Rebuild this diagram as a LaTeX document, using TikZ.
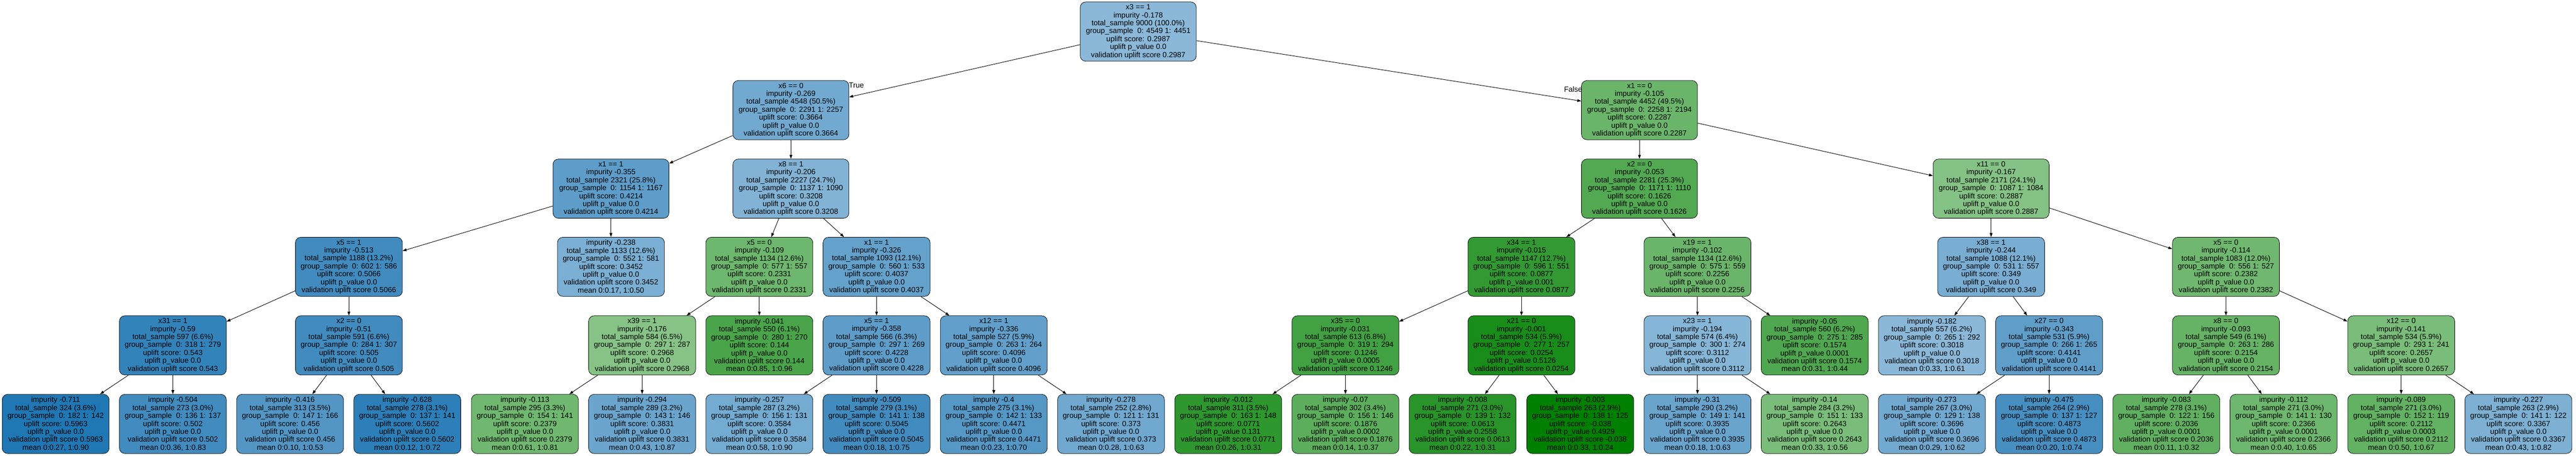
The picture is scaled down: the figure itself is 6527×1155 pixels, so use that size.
\documentclass[tikz,border=0pt]{standalone}
\usepackage{fontspec}
\setmainfont{Liberation Sans}
\usetikzlibrary{arrows.meta}
\definecolor{bl}{HTML}{1F77B4}
\definecolor{gr}{HTML}{008000}
\newcommand\intxt[7]{#1\\impurity #2\\total\_sample #3\\group\_sample\ \ 0: #4 1: #5\\uplift score: #6\\uplift p\_value #7\\validation uplift score #6}
\newcommand\lftxt[7]{impurity #1\\total\_sample #2\\group\_sample\ \ 0: #3 1: #4\\uplift score: #5\\uplift p\_value #6\\validation uplift score #5\\mean #7}
\tikzset{
  tnode/.style={draw=black, line width=1pt, rounded corners=14pt, minimum height=150pt, inner sep=0pt, align=center, font=\fontsize{18.9}{20.1}\selectfont},
  widebox/.style={tnode, minimum width=294pt},
  narrowbox/.style={tnode, minimum width=271pt},
  conn/.style={draw=black, line width=1.2pt, -{Triangle[length=10pt,width=7pt]}},
  lbl/.style={inner sep=0pt, font=\fontsize{18.9}{20.1}\selectfont}
}
\begin{document}
\begin{tikzpicture}[x=1pt,y=-1pt]
\useasboundingbox (0,0) rectangle (6527,1155);
\fill[white] (0,0) rectangle (6527,1155);
% level 0
\node[widebox, fill=bl!52] (n0) at (2884,80) {\intxt{x3 == 1}{-0.178}{9000 (100.0\%)}{4549}{4451}{0.2987}{0.0}};
% level 1
\node[widebox, fill=bl!63] (n1) at (2004,279) {\intxt{x6 == 0}{-0.269}{4548 (50.5\%)}{2291}{2257}{0.3664}{0.0}};
\node[widebox, fill=gr!58] (n2) at (4154,279) {\intxt{x1 == 0}{-0.105}{4452 (49.5\%)}{2258}{2194}{0.2287}{0.0}};
% level 2
\node[widebox, fill=bl!72] (n3) at (1548,478) {\intxt{x1 == 1}{-0.355}{2321 (25.8\%)}{1154}{1167}{0.4214}{0.0}};
\node[widebox, fill=bl!56] (n4) at (2004,478) {\intxt{x8 == 1}{-0.206}{2227 (24.7\%)}{1137}{1090}{0.3208}{0.0}};
\node[widebox, fill=gr!68] (n5) at (4154,478) {\intxt{x2 == 0}{-0.053}{2281 (25.3\%)}{1171}{1110}{0.1626}{0.0}};
\node[widebox, fill=gr!48] (n6) at (5045,478) {\intxt{x11 == 0}{-0.167}{2171 (24.1\%)}{1087}{1084}{0.2887}{0.0}};
% level 3
\node[narrowbox, fill=bl!85] (n7) at (884,676) {\intxt{x5 == 1}{-0.513}{1188 (13.2\%)}{602}{586}{0.5066}{0.0}};
\node[narrowbox, fill=bl!59] (n8) at (1548,676) {\lftxt{-0.238}{1133 (12.6\%)}{552}{581}{0.3452}{0.0}{0:0.17, 1:0.50}};
\node[narrowbox, fill=gr!57] (n9) at (1924,676) {\intxt{x5 == 0}{-0.109}{1134 (12.6\%)}{577}{557}{0.2331}{0.0}};
\node[narrowbox, fill=bl!69] (n10) at (2221,676) {\intxt{x1 == 1}{-0.326}{1093 (12.1\%)}{560}{533}{0.4037}{0.0}};
\node[narrowbox, fill=gr!80] (n11) at (3855,676) {\intxt{x34 == 1}{-0.015}{1147 (12.7\%)}{596}{551}{0.0877}{0.001}};
\node[narrowbox, fill=gr!58] (n12) at (4301,676) {\intxt{x19 == 1}{-0.102}{1134 (12.6\%)}{575}{559}{0.2256}{0.0}};
\node[narrowbox, fill=bl!60] (n13) at (5045,676) {\intxt{x38 == 1}{-0.244}{1088 (12.1\%)}{531}{557}{0.349}{0.0}};
\node[narrowbox, fill=gr!56] (n14) at (5640,676) {\intxt{x5 == 0}{-0.114}{1083 (12.0\%)}{556}{527}{0.2382}{0.0}};
% level 4
\node[narrowbox, fill=bl!91] (n15) at (438,875) {\intxt{x31 == 1}{-0.59}{597 (6.6\%)}{318}{279}{0.543}{0.0}};
\node[narrowbox, fill=bl!85] (n16) at (884,875) {\intxt{x2 == 0}{-0.51}{591 (6.6\%)}{284}{307}{0.505}{0.0}};
\node[narrowbox, fill=gr!47] (n17) at (1627,875) {\intxt{x39 == 1}{-0.176}{584 (6.5\%)}{297}{287}{0.2968}{0.0}};
\node[narrowbox, fill=gr!71] (n18) at (1924,875) {\lftxt{-0.041}{550 (6.1\%)}{280}{270}{0.144}{0.0}{0:0.85, 1:0.96}};
\node[narrowbox, fill=bl!72] (n19) at (2221,875) {\intxt{x5 == 1}{-0.358}{566 (6.3\%)}{297}{269}{0.4228}{0.0}};
\node[narrowbox, fill=bl!70] (n20) at (2518,875) {\intxt{x12 == 1}{-0.336}{527 (5.9\%)}{263}{264}{0.4096}{0.0}};
\node[narrowbox, fill=gr!74] (n21) at (3409,875) {\intxt{x35 == 0}{-0.031}{613 (6.8\%)}{319}{294}{0.1246}{0.0005}};
\node[narrowbox, fill=gr!90] (n22) at (3855,875) {\intxt{x21 == 0}{-0.001}{534 (5.9\%)}{277}{257}{0.0254}{0.5126}};
\node[narrowbox, fill=bl!54] (n23) at (4301,875) {\intxt{x23 == 1}{-0.194}{574 (6.4\%)}{300}{274}{0.3112}{0.0}};
\node[narrowbox, fill=gr!69] (n24) at (4598,875) {\lftxt{-0.05}{560 (6.2\%)}{275}{285}{0.1574}{0.0001}{0:0.31, 1:0.44}};
\node[narrowbox, fill=bl!52] (n25) at (4895,875) {\lftxt{-0.182}{557 (6.2\%)}{265}{292}{0.3018}{0.0}{0:0.33, 1:0.61}};
\node[narrowbox, fill=bl!71] (n26) at (5192,875) {\intxt{x27 == 0}{-0.343}{531 (5.9\%)}{266}{265}{0.4141}{0.0}};
\node[narrowbox, fill=gr!60] (n27) at (5640,875) {\intxt{x8 == 0}{-0.093}{549 (6.1\%)}{263}{286}{0.2154}{0.0}};
\node[narrowbox, fill=gr!52] (n28) at (6084,875) {\intxt{x12 == 0}{-0.141}{534 (5.9\%)}{293}{241}{0.2657}{0.0}};
% level 5
\node[narrowbox, fill=bl!100] (l0) at (141,1074) {\lftxt{-0.711}{324 (3.6\%)}{182}{142}{0.5963}{0.0}{0:0.27, 1:0.90}};
\node[narrowbox, fill=bl!85] (l1) at (438,1074) {\lftxt{-0.504}{273 (3.0\%)}{136}{137}{0.502}{0.0}{0:0.36, 1:0.83}};
\node[narrowbox, fill=bl!77] (l2) at (735,1074) {\lftxt{-0.416}{313 (3.5\%)}{147}{166}{0.456}{0.0}{0:0.10, 1:0.53}};
\node[narrowbox, fill=bl!94] (l3) at (1032,1074) {\lftxt{-0.628}{278 (3.1\%)}{137}{141}{0.5602}{0.0}{0:0.12, 1:0.72}};
\node[narrowbox, fill=gr!56] (l4) at (1330,1074) {\lftxt{-0.113}{295 (3.3\%)}{154}{141}{0.2379}{0.0}{0:0.61, 1:0.81}};
\node[narrowbox, fill=bl!66] (l5) at (1627,1074) {\lftxt{-0.294}{289 (3.2\%)}{143}{146}{0.3831}{0.0}{0:0.43, 1:0.87}};
\node[narrowbox, fill=bl!62] (l6) at (1924,1074) {\lftxt{-0.257}{287 (3.2\%)}{156}{131}{0.3584}{0.0}{0:0.58, 1:0.90}};
\node[narrowbox, fill=bl!85] (l7) at (2221,1074) {\lftxt{-0.509}{279 (3.1\%)}{141}{138}{0.5045}{0.0}{0:0.18, 1:0.75}};
\node[narrowbox, fill=bl!76] (l8) at (2518,1074) {\lftxt{-0.4}{275 (3.1\%)}{142}{133}{0.4471}{0.0}{0:0.23, 1:0.70}};
\node[narrowbox, fill=bl!64] (l9) at (2815,1074) {\lftxt{-0.278}{252 (2.8\%)}{121}{131}{0.373}{0.0}{0:0.28, 1:0.63}};
\node[narrowbox, fill=gr!82] (l10) at (3112,1074) {\lftxt{-0.012}{311 (3.5\%)}{163}{148}{0.0771}{0.131}{0:0.26, 1:0.31}};
\node[narrowbox, fill=gr!64] (l11) at (3409,1074) {\lftxt{-0.07}{302 (3.4\%)}{156}{146}{0.1876}{0.0002}{0:0.14, 1:0.37}};
\node[narrowbox, fill=gr!84] (l12) at (3706,1074) {\lftxt{-0.008}{271 (3.0\%)}{139}{132}{0.0613}{0.2558}{0:0.22, 1:0.31}};
\node[narrowbox, fill=gr!100] (l13) at (4004,1074) {\lftxt{-0.003}{263 (2.9\%)}{138}{125}{-0.038}{0.4929}{0:0.33, 1:0.24}};
\node[narrowbox, fill=bl!67] (l14) at (4301,1074) {\lftxt{-0.31}{290 (3.2\%)}{149}{141}{0.3935}{0.0}{0:0.18, 1:0.63}};
\node[narrowbox, fill=gr!52] (l15) at (4598,1074) {\lftxt{-0.14}{284 (3.2\%)}{151}{133}{0.2643}{0.0}{0:0.33, 1:0.56}};
\node[narrowbox, fill=bl!63] (l16) at (4895,1074) {\lftxt{-0.273}{267 (3.0\%)}{129}{138}{0.3696}{0.0}{0:0.29, 1:0.62}};
\node[narrowbox, fill=bl!82] (l17) at (5192,1074) {\lftxt{-0.475}{264 (2.9\%)}{137}{127}{0.4873}{0.0}{0:0.20, 1:0.74}};
\node[narrowbox, fill=gr!62] (l18) at (5489,1074) {\lftxt{-0.083}{278 (3.1\%)}{122}{156}{0.2036}{0.0001}{0:0.11, 1:0.32}};
\node[narrowbox, fill=gr!57] (l19) at (5786,1074) {\lftxt{-0.112}{271 (3.0\%)}{141}{130}{0.2366}{0.0001}{0:0.40, 1:0.65}};
\node[narrowbox, fill=gr!61] (l20) at (6084,1074) {\lftxt{-0.089}{271 (3.0\%)}{152}{119}{0.2112}{0.0003}{0:0.50, 1:0.67}};
\node[narrowbox, fill=bl!58] (l21) at (6381,1074) {\lftxt{-0.227}{263 (2.9\%)}{141}{122}{0.3367}{0.0}{0:0.43, 1:0.82}};
% edge labels
\node[lbl] (tlab) at (2170,216) {True};
\node[lbl] (flab) at (3986,226) {False};
% edges
\draw[conn] (n0) -- (n1);
\draw[conn] (n0) -- (n2);
\draw[conn] (n1) -- (n3);
\draw[conn] (n1) -- (n4);
\draw[conn] (n2) -- (n5);
\draw[conn] (n2) -- (n6);
\draw[conn] (n3) -- (n7);
\draw[conn] (n3) -- (n8);
\draw[conn] (n4) -- (n9);
\draw[conn] (n4) -- (n10);
\draw[conn] (n5) -- (n11);
\draw[conn] (n5) -- (n12);
\draw[conn] (n6) -- (n13);
\draw[conn] (n6) -- (n14);
\draw[conn] (n7) -- (n15);
\draw[conn] (n7) -- (n16);
\draw[conn] (n9) -- (n17);
\draw[conn] (n9) -- (n18);
\draw[conn] (n10) -- (n19);
\draw[conn] (n10) -- (n20);
\draw[conn] (n11) -- (n21);
\draw[conn] (n11) -- (n22);
\draw[conn] (n12) -- (n23);
\draw[conn] (n12) -- (n24);
\draw[conn] (n13) -- (n25);
\draw[conn] (n13) -- (n26);
\draw[conn] (n14) -- (n27);
\draw[conn] (n14) -- (n28);
\draw[conn] (n15) -- (l0);
\draw[conn] (n15) -- (l1);
\draw[conn] (n16) -- (l2);
\draw[conn] (n16) -- (l3);
\draw[conn] (n17) -- (l4);
\draw[conn] (n17) -- (l5);
\draw[conn] (n19) -- (l6);
\draw[conn] (n19) -- (l7);
\draw[conn] (n20) -- (l8);
\draw[conn] (n20) -- (l9);
\draw[conn] (n21) -- (l10);
\draw[conn] (n21) -- (l11);
\draw[conn] (n22) -- (l12);
\draw[conn] (n22) -- (l13);
\draw[conn] (n23) -- (l14);
\draw[conn] (n23) -- (l15);
\draw[conn] (n26) -- (l16);
\draw[conn] (n26) -- (l17);
\draw[conn] (n27) -- (l18);
\draw[conn] (n27) -- (l19);
\draw[conn] (n28) -- (l20);
\draw[conn] (n28) -- (l21);
\end{tikzpicture}
\end{document}
